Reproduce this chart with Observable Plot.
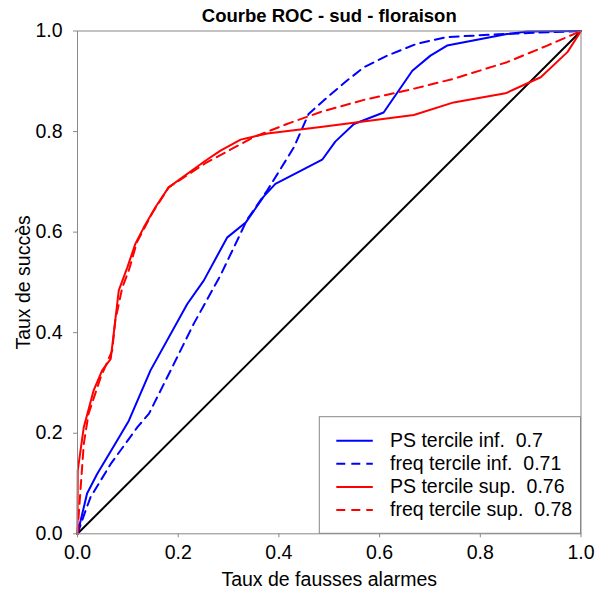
<!DOCTYPE html>
<html>
<head>
<meta charset="utf-8">
<script src="https://cdn.jsdelivr.net/npm/d3@7"></script>
<script src="https://cdn.jsdelivr.net/npm/@observablehq/plot@0.6"></script>
<style>
  html, body { margin: 0; padding: 0; background: #fff; }
  #chart { width: 603px; height: 595px; }
</style>
</head>
<body>
<div id="chart"></div>
<script>
// ---- Data ----
const title = "Courbe ROC - sud - floraison";
const xLabel = "Taux de fausses alarmes";
const yLabel = "Taux de succès";
const ticks = [0, 0.2, 0.4, 0.6, 0.8, 1.0];

const xPSinf = [0, 0.019, 0.039, 0.072, 0.102, 0.145, 0.218, 0.251, 0.297, 0.334, 0.370, 0.393, 0.443, 0.486, 0.512, 0.549, 0.608, 0.665, 0.701, 0.734, 0.853, 0.893, 1];
const yPSinf = [0, 0.080, 0.119, 0.174, 0.225, 0.325, 0.457, 0.504, 0.589, 0.619, 0.671, 0.696, 0.722, 0.744, 0.780, 0.815, 0.838, 0.921, 0.951, 0.971, 0.994, 0.999, 1];

const xFreqInf = [0, 0.016, 0.026, 0.066, 0.119, 0.142, 0.185, 0.231, 0.284, 0.337, 0.377, 0.430, 0.459, 0.489, 0.536, 0.569, 0.615, 0.675, 0.734, 0.847, 1];
const yFreqInf = [0, 0.046, 0.073, 0.139, 0.212, 0.239, 0.325, 0.418, 0.514, 0.625, 0.683, 0.769, 0.835, 0.862, 0.902, 0.928, 0.951, 0.975, 0.988, 0.994, 1];

const xPSsup = [0, 0.0005, 0.0125, 0.032, 0.049, 0.066, 0.082, 0.099, 0.115, 0.132, 0.155, 0.181, 0.254, 0.284, 0.324, 0.377, 0.483, 0.668, 0.747, 0.850, 0.920, 0.973, 1];
const yPSsup = [0, 0.126, 0.212, 0.285, 0.325, 0.348, 0.484, 0.530, 0.577, 0.610, 0.650, 0.689, 0.742, 0.762, 0.784, 0.796, 0.809, 0.833, 0.858, 0.876, 0.908, 0.958, 1];

const xFreqSup = [0, 0.003, 0.0125, 0.022, 0.046, 0.069, 0.075, 0.089, 0.102, 0.118, 0.148, 0.181, 0.254, 0.350, 0.416, 0.483, 0.569, 0.655, 0.747, 0.853, 0.933, 1];
const yFreqSup = [0, 0.046, 0.179, 0.239, 0.311, 0.365, 0.424, 0.490, 0.524, 0.580, 0.637, 0.689, 0.737, 0.789, 0.815, 0.839, 0.863, 0.882, 0.905, 0.938, 0.971, 1];

const diagX = [0, 1];
const diagY = [0, 1];

const seriesNames = ["PS tercile inf.  0.7", "freq tercile inf.  0.71", "PS tercile sup.  0.76", "freq tercile sup.  0.78"];
const seriesColors = ["#0000ff", "#0000ff", "#ff0000", "#ff0000"];
const seriesDash = [null, "9,6", null, "9,6"];

// ---- Build ----
const seriesXY = [[xPSinf, yPSinf], [xFreqInf, yFreqInf], [xPSsup, yPSsup], [xFreqSup, yFreqSup]];
const curves = seriesXY.map(([xs, ys]) => xs.map((x, i) => ({x, y: ys[i]})));
const diag = diagX.map((x, i) => ({x, y: diagY[i]}));

const W = 603, H = 595;
const mL = 77, mR = 22.5, mT = 30.5, mB = 61.7;
const FONT = "Liberation Sans, Arial, Helvetica, sans-serif";
const FS = 19.5;

const lineMarks = curves.map((c, i) => Plot.line(c, {
  x: "x", y: "y", stroke: seriesColors[i], strokeWidth: 2,
  strokeDasharray: seriesDash[i] || undefined
}));

const chart = Plot.plot({
  width: W, height: H,
  marginLeft: mL, marginRight: mR, marginTop: mT, marginBottom: mB,
  style: {fontFamily: FONT, fontSize: FS + "px", background: "#fff", color: "#000"},
  x: {domain: [0, 1]},
  y: {domain: [0, 1]},
  marks: [
    Plot.line(diag, {x: "x", y: "y", stroke: "#000", strokeWidth: 2}),
    ...lineMarks,
    Plot.frame({stroke: "#888", strokeWidth: 1}),
    Plot.axisX({ticks, tickFormat: d3.format(".1f"), tickSize: 4, tickPadding: 7, stroke: "#888", fill: "#000", label: null, fontSize: FS}),
    Plot.axisY({ticks, tickFormat: d3.format(".1f"), tickSize: 4, tickPadding: 11, stroke: "#888", fill: "#000", label: null, fontSize: FS}),
    Plot.text([title], {frameAnchor: "top", lineAnchor: "middle", textAnchor: "middle", dy: -15, fontWeight: "bold", fontSize: 18.5, fill: "#000"}),
    Plot.text([xLabel], {frameAnchor: "bottom", lineAnchor: "middle", textAnchor: "middle", dy: 46, fontSize: FS, fill: "#000"}),
    Plot.text([yLabel], {frameAnchor: "left", lineAnchor: "middle", textAnchor: "middle", dx: -54, rotate: -90, fontSize: FS, fill: "#000"})
  ]
});

document.getElementById("chart").appendChild(chart);

// ---- Legend (inside plot, bottom-right, sharing the frame edges) ----
const svg = d3.select(chart);
const xs = chart.scale("x"), ys = chart.scale("y");
const right = xs.apply(1), bottom = ys.apply(0);
const boxW = 261.2, boxH = 116.6;
const g = svg.append("g");
g.append("rect")
  .attr("x", right - boxW).attr("y", bottom - boxH)
  .attr("width", boxW).attr("height", boxH)
  .attr("fill", "#fff").attr("stroke", "#888").attr("stroke-width", 1);
const row0 = bottom - boxH + 24, rowStep = 23.1;
seriesNames.forEach((name, i) => {
  const yy = row0 + i * rowStep;
  g.append("line")
    .attr("x1", right - boxW + 17).attr("x2", right - boxW + 53.5)
    .attr("y1", yy).attr("y2", yy)
    .attr("stroke", seriesColors[i]).attr("stroke-width", 2)
    .attr("stroke-dasharray", seriesDash[i]);
  g.append("text")
    .attr("x", right - boxW + 70.7).attr("y", yy).attr("dy", "0.33em")
    .attr("text-anchor", "start")
    .attr("font-family", FONT).attr("font-size", FS)
    .style("white-space", "pre")
    .attr("fill", "#000")
    .text(name);
});
</script>
</body>
</html>
